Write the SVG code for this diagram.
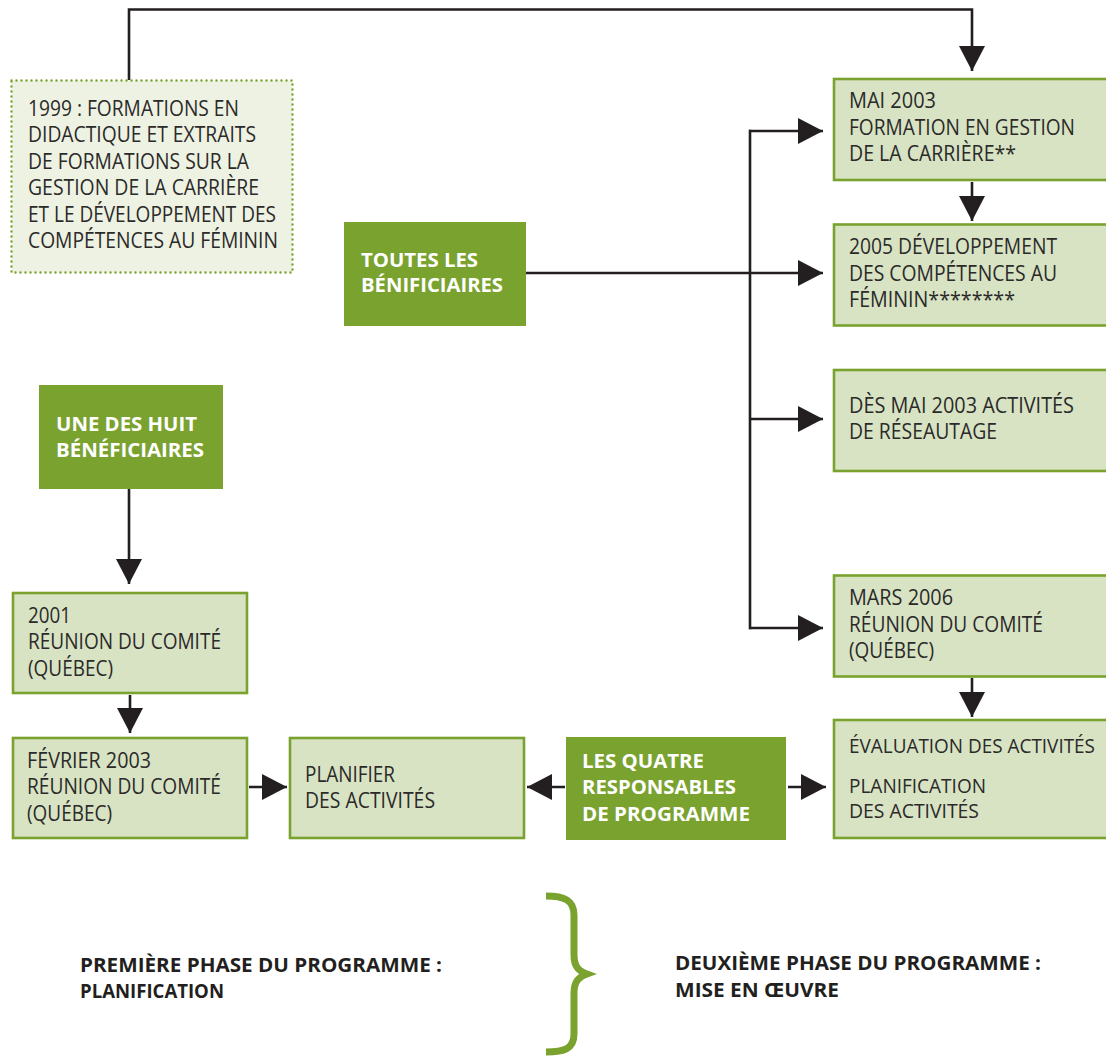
<svg xmlns="http://www.w3.org/2000/svg" width="1106" height="1056" viewBox="0 0 1106 1056">
<defs>
<style>
.lt{fill:#d8e3c4;stroke:#7aa22f;stroke-width:2.6}
.dk{fill:#7aa22f}
.dot{fill:#eef2e3;stroke:#7aa22f;stroke-width:2.4;stroke-dasharray:0 5;stroke-linecap:round}
.t{font-family:"Open Sans","Liberation Sans",Arial,sans-serif;font-size:21px;fill:#2b2a29}
.s{font-size:20px}
.b{font-family:"Open Sans","Liberation Sans",Arial,sans-serif;font-size:20px;font-weight:bold;fill:#ffffff}
.bt{font-family:"Open Sans","Liberation Sans",Arial,sans-serif;font-size:20px;font-weight:bold;fill:#231f20}
.c{fill:none;stroke:#231f20;stroke-width:2.6}
.brace{fill:none;stroke:#7aa22f;stroke-width:7;stroke-linecap:butt}
</style>
<marker id="ah" markerUnits="userSpaceOnUse" markerWidth="25" markerHeight="27" refX="25" refY="13.5" orient="auto">
<path d="M0,0.5 L25,13.5 L0,26.5 z" fill="#231f20"/>
</marker>
</defs>

<g id="connectors">
<path class="c" d="M129,80 V9.5 H972 V71" marker-end="url(#ah)"/>
<path class="c" d="M972,182 V221" marker-end="url(#ah)"/>
<path class="c" d="M526,273 H823" marker-end="url(#ah)"/>
<path class="c" d="M750,131 V628" stroke-linecap="square"/>
<path class="c" d="M749,131 H823" marker-end="url(#ah)"/>
<path class="c" d="M749,419 H823" marker-end="url(#ah)"/>
<path class="c" d="M749,628 H823" marker-end="url(#ah)"/>
<path class="c" d="M129,489 V584" marker-end="url(#ah)"/>
<path class="c" d="M130,695 V733" marker-end="url(#ah)"/>
<path class="c" d="M249,787 H287" marker-end="url(#ah)"/>
<path class="c" d="M565,787 H527" marker-end="url(#ah)"/>
<path class="c" d="M788,787 H826" marker-end="url(#ah)"/>
<path class="c" d="M972,678 V717" marker-end="url(#ah)"/>
</g>

<g id="n1999">
<rect class="dot" x="11.5" y="80.5" width="281" height="192"/>
<text class="t" x="28" y="116" textLength="211" lengthAdjust="spacingAndGlyphs">1999 : FORMATIONS EN</text>
<text class="t" x="28" y="142.4" textLength="228" lengthAdjust="spacingAndGlyphs">DIDACTIQUE ET EXTRAITS</text>
<text class="t" x="28" y="168.8" textLength="221" lengthAdjust="spacingAndGlyphs">DE FORMATIONS SUR LA</text>
<text class="t" x="28" y="195.2" textLength="231" lengthAdjust="spacingAndGlyphs">GESTION DE LA CARRIÈRE</text>
<text class="t" x="28" y="221.6" textLength="248" lengthAdjust="spacingAndGlyphs">ET LE DÉVELOPPEMENT DES</text>
<text class="t" x="28" y="248" textLength="250" lengthAdjust="spacingAndGlyphs">COMPÉTENCES AU FÉMININ</text>
</g>

<g id="mai2003">
<rect class="lt" x="834" y="79" width="300" height="101"/>
<text class="t" x="849" y="108" textLength="87" lengthAdjust="spacingAndGlyphs">MAI 2003</text>
<text class="t" x="849" y="135" textLength="226" lengthAdjust="spacingAndGlyphs">FORMATION EN GESTION</text>
<text class="t" x="849" y="161" textLength="167" lengthAdjust="spacingAndGlyphs">DE LA CARRIÈRE**</text>
</g>

<g id="n2005">
<rect class="lt" x="834" y="224.5" width="300" height="101"/>
<text class="t" x="849" y="254" textLength="208" lengthAdjust="spacingAndGlyphs">2005 DÉVELOPPEMENT</text>
<text class="t" x="849" y="280.5" textLength="208" lengthAdjust="spacingAndGlyphs">DES COMPÉTENCES AU</text>
<text class="t" x="849" y="307" textLength="166" lengthAdjust="spacingAndGlyphs">FÉMININ********</text>
</g>

<g id="toutes">
<rect class="dk" x="344" y="222" width="182" height="104"/>
<text class="b" x="361" y="267" textLength="117" lengthAdjust="spacingAndGlyphs">TOUTES LES</text>
<text class="b" x="361" y="292" textLength="142" lengthAdjust="spacingAndGlyphs">BÉNIFICIAIRES</text>
</g>

<g id="reseautage">
<rect class="lt" x="834" y="370" width="300" height="101"/>
<text class="t" x="849" y="413" textLength="225" lengthAdjust="spacingAndGlyphs">DÈS MAI 2003 ACTIVITÉS</text>
<text class="t" x="849" y="439" textLength="148" lengthAdjust="spacingAndGlyphs">DE RÉSEAUTAGE</text>
</g>

<g id="unedeshuit">
<rect class="dk" x="39" y="385" width="184" height="104"/>
<text class="b" x="56" y="431" textLength="141" lengthAdjust="spacingAndGlyphs">UNE DES HUIT</text>
<text class="b" x="56" y="457" textLength="148" lengthAdjust="spacingAndGlyphs">BÉNÉFICIAIRES</text>
</g>

<g id="mars2006">
<rect class="lt" x="834" y="575.5" width="300" height="101"/>
<text class="t" x="849" y="605" textLength="104" lengthAdjust="spacingAndGlyphs">MARS 2006</text>
<text class="t" x="849" y="632" textLength="194" lengthAdjust="spacingAndGlyphs">RÉUNION DU COMITÉ</text>
<text class="t" x="849" y="658" textLength="85" lengthAdjust="spacingAndGlyphs">(QUÉBEC)</text>
</g>

<g id="n2001">
<rect class="lt" x="13" y="593" width="234" height="100"/>
<text class="t" x="28" y="623" textLength="43" lengthAdjust="spacingAndGlyphs">2001</text>
<text class="t" x="28" y="649" textLength="193" lengthAdjust="spacingAndGlyphs">RÉUNION DU COMITÉ</text>
<text class="t" x="28" y="676" textLength="85" lengthAdjust="spacingAndGlyphs">(QUÉBEC)</text>
</g>

<g id="fevrier2003">
<rect class="lt" x="13" y="738" width="234" height="100"/>
<text class="t" x="27" y="768" textLength="124" lengthAdjust="spacingAndGlyphs">FÉVRIER 2003</text>
<text class="t" x="27" y="794" textLength="194" lengthAdjust="spacingAndGlyphs">RÉUNION DU COMITÉ</text>
<text class="t" x="27" y="821" textLength="85" lengthAdjust="spacingAndGlyphs">(QUÉBEC)</text>
</g>

<g id="planifier">
<rect class="lt" x="290" y="738" width="234" height="100"/>
<text class="t" x="305" y="782" textLength="90" lengthAdjust="spacingAndGlyphs">PLANIFIER</text>
<text class="t" x="305" y="808" textLength="130" lengthAdjust="spacingAndGlyphs">DES ACTIVITÉS</text>
</g>

<g id="quatre">
<rect class="dk" x="566" y="737" width="220" height="103"/>
<text class="b" x="582" y="768" textLength="122" lengthAdjust="spacingAndGlyphs">LES QUATRE</text>
<text class="b" x="582" y="794" textLength="154" lengthAdjust="spacingAndGlyphs">RESPONSABLES</text>
<text class="b" x="582" y="821" textLength="168" lengthAdjust="spacingAndGlyphs">DE PROGRAMME</text>
</g>

<g id="evaluation">
<rect class="lt" x="834" y="720" width="300" height="118"/>
<text class="t s" x="849" y="753" textLength="246" lengthAdjust="spacingAndGlyphs">ÉVALUATION DES ACTIVITÉS</text>
<text class="t s" x="849" y="793" textLength="137" lengthAdjust="spacingAndGlyphs">PLANIFICATION</text>
<text class="t s" x="849" y="818" textLength="130" lengthAdjust="spacingAndGlyphs">DES ACTIVITÉS</text>
</g>

<g id="phases">
<text class="bt" x="80" y="972" textLength="362" lengthAdjust="spacingAndGlyphs">PREMIÈRE PHASE DU PROGRAMME :</text>
<text class="bt" x="80" y="998" textLength="144" lengthAdjust="spacingAndGlyphs">PLANIFICATION</text>
<path class="brace" d="M546,896 C564,896 574,900 574,915 L574,955 C574,967 579,971 587,974 C579,977 574,981 574,993 L574,1034 C574,1049 564,1052 546,1052"/>
<text class="bt" x="675" y="970" textLength="366" lengthAdjust="spacingAndGlyphs">DEUXIÈME PHASE DU PROGRAMME :</text>
<text class="bt" x="675" y="997" textLength="164" lengthAdjust="spacingAndGlyphs">MISE EN ŒUVRE</text>
</g>
</svg>
